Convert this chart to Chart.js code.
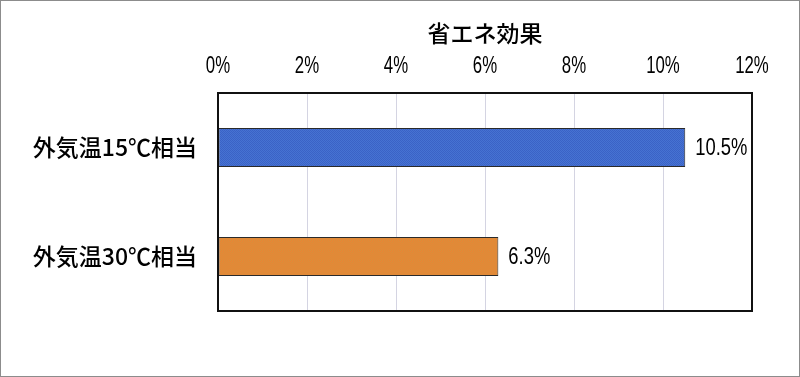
<!DOCTYPE html>
<html>
<head>
<meta charset="utf-8">
<script src="https://cdn.jsdelivr.net/npm/chart.js@4"></script>
<style>
  html, body { margin: 0; padding: 0; background: #fff; }
  #wrap { width: 800px; height: 377px; }
</style>
</head>
<body>
<div id="wrap"><canvas id="chart" width="800" height="377"></canvas></div>
<script>
const title = '省エネ効果'
const categories = ['外気温15℃相当', '外気温30℃相当']
const savings = [10.5, 6.3]
const tickValues = [0, 2, 4, 6, 8, 10, 12]

const numFont = '23px "Liberation Sans", Arial, sans-serif'
const jpFont = '"Noto Sans CJK JP", sans-serif'

// 2x2 dither so the fill looks like the original's dotted bars
const dither = (a, b) => {
  const c = document.createElement('canvas')
  c.width = 2
  c.height = 2
  const g = c.getContext('2d')
  g.fillStyle = a
  g.fillRect(0, 0, 2, 2)
  g.fillStyle = b
  g.fillRect(0, 0, 1, 1)
  g.fillRect(1, 1, 1, 1)
  return g.createPattern(c, 'repeat')
}

// narrow text: no condensed font installed, so squeeze it
const narrowText = (ctx, text, x, y, squeeze) => {
  ctx.save()
  ctx.translate(x, y)
  ctx.scale(squeeze, 1)
  ctx.fillText(text, 0, 0)
  ctx.restore()
}

const ctx = document.getElementById('chart').getContext('2d')

const decorations = {
  id: 'decorations',
  afterDatasetsDraw (chart) {
    const { ctx, chartArea: a } = chart
    const meta = chart.getDatasetMeta(0)
    const xScale = chart.scales.x
    ctx.save()
    ctx.fillStyle = '#000'
    ctx.font = numFont
    ctx.textBaseline = 'middle'
    // value labels
    ctx.textAlign = 'left'
    meta.data.forEach((bar, i) => {
      narrowText(ctx, savings[i].toFixed(1) + '%', bar.x + 10, bar.y + 1, 0.8)
    })
    // x tick labels
    ctx.textAlign = 'center'
    tickValues.forEach(v => {
      narrowText(ctx, v + '%', xScale.getPixelForValue(v), 67, 0.73)
    })
    // plot frame
    ctx.strokeStyle = '#111'
    ctx.lineWidth = 2
    ctx.strokeRect(a.left, a.top, a.right - a.left, a.bottom - a.top)
    // title
    ctx.font = '500 23px ' + jpFont
    ctx.textBaseline = 'middle'
    ctx.fillText(title, (a.left + a.right) / 2, 33)
    // outer frame
    ctx.strokeStyle = '#8c8c8c'
    ctx.lineWidth = 1
    ctx.strokeRect(0.5, 0.5, chart.width - 1, chart.height - 1)
    ctx.restore()
  }
}

new Chart(ctx, {
  type: 'bar',
  data: {
    labels: categories,
    datasets: [{
      data: savings,
      backgroundColor: [dither('#4673d2', '#3b62c6'), dither('#ec8232', '#d6913c')],
      borderColor: '#2a2a2a',
      borderWidth: 1,
      borderSkipped: false,
      categoryPercentage: 0.4,
      barPercentage: 0.9
    }]
  },
  options: {
    indexAxis: 'y',
    responsive: false,
    animation: false,
    layout: { padding: { top: 0, right: 48, bottom: 66, left: 0 } },
    plugins: {
      legend: { display: false },
      title: { display: false },
      tooltip: { enabled: false }
    },
    scales: {
      x: {
        position: 'top',
        min: 0,
        max: 12,
        afterBuildTicks: (scale) => { scale.ticks = tickValues.map(v => ({ value: v })) },
        afterFit: (scale) => { scale.height = 93 },
        grid: { color: '#d4d4e2', lineWidth: 1, drawTicks: false },
        border: { display: false },
        // drawn squeezed by the plugin above
        ticks: { display: false }
      },
      y: {
        afterFit: (scale) => { scale.width = 218 },
        grid: { display: false, drawTicks: false },
        border: { display: false },
        ticks: {
          padding: 21,
          color: '#000',
          font: { family: jpFont, size: 23, weight: 500 }
        }
      }
    }
  },
  plugins: [decorations]
})
</script>
</body>
</html>
